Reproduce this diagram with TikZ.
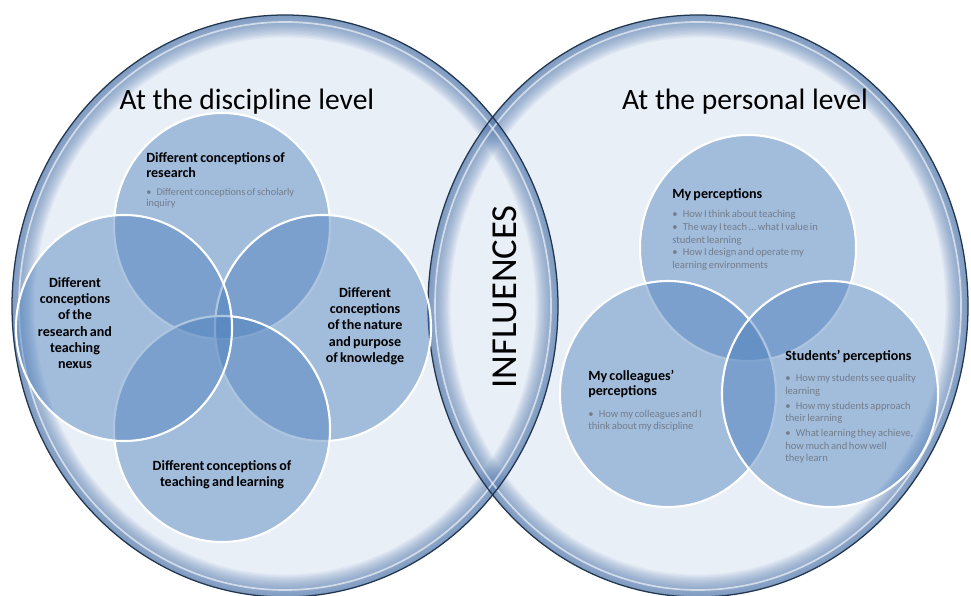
\documentclass[tikz,border=0pt]{standalone}
\usepackage{fontspec}
\setmainfont{Carlito}
\newfontfamily\petalfont{Carlito}[WordSpace=0.7]
\usepackage{tikz}
\usetikzlibrary{shapes.geometric}

\definecolor{lensfill}{HTML}{E9EFF7}
\definecolor{rimblue}{HTML}{5A7FB2}
\definecolor{rimline}{HTML}{22364F}
\definecolor{petalblue}{HTML}{4F81BD}
\definecolor{bultext}{HTML}{737D8A}

% bullet text inside the petal labels
\newcommand\bulsize{\fontsize{7.5}{9}\selectfont}
\newcommand\bul[1][0pt]{\par\vspace{#1}\bulsize\mdseries
  \hangindent=1em\hangafter=1\noindent\color{bultext}\makebox[1em][l]{\textbullet}}

\begin{document}
\begin{tikzpicture}[x=0.025cm, y=-0.025cm,
  petal/.style={ellipse, draw=white, line width=1.5pt, fill=petalblue, fill opacity=0.46,
    minimum width=5.4cm, minimum height=5.65cm, inner sep=0pt},
  head/.style={font=\fontsize{21}{25}\selectfont, inner sep=0pt},
  lbl/.style={font=\petalfont\fontsize{10}{11.6}\selectfont\bfseries, inner sep=0pt, align=center},
  lblbox/.style={font=\petalfont\fontsize{10}{11}\selectfont\bfseries, inner sep=0pt, text width=#1, align=flush left}
]
  \useasboundingbox (0,0) rectangle (971,596);
  \fill[white] (0,0) rectangle (971,596);

  % two big ellipses
  \fill[lensfill] (285,306) ellipse [x radius=273, y radius=291];
  \fill[lensfill] (698,306) ellipse [x radius=270, y radius=291];
  \begin{scope}
    \clip (285,306) ellipse [x radius=273, y radius=291];
    \foreach \w in {32,30,...,2}
      \draw[rimblue, line width=\w pt, opacity=0.075] (285,306) ellipse [x radius=273, y radius=291];
  \end{scope}
  \begin{scope}
    \clip (698,306) ellipse [x radius=270, y radius=291];
    \foreach \w in {32,30,...,2}
      \draw[rimblue, line width=\w pt, opacity=0.075] (698,306) ellipse [x radius=270, y radius=291];
  \end{scope}
  \draw[white, line width=1.2pt, opacity=0.6] (285,306) ellipse [x radius=266, y radius=284];
  \draw[white, line width=1.2pt, opacity=0.6] (698,306) ellipse [x radius=263, y radius=284];
  \draw[rimline, line width=0.9pt] (285,306) ellipse [x radius=273, y radius=291];
  \draw[rimline, line width=0.9pt] (698,306) ellipse [x radius=270, y radius=291];

  \node[head, anchor=base] (discipline) at (247,110) {At the discipline level};
  \node[head, anchor=base] (personal) at (745,110) {At the personal level};
  \node[font=\fontsize{26}{30}\selectfont, rotate=90, inner sep=0pt] (influences) at (505,297) {INFLUENCES};

  % discipline petals
  \node[petal] (research) at (222,226) {};
  \node[petal] (nature) at (323,328) {};
  \node[petal] (teaching) at (222,429) {};
  \node[petal] (nexus) at (124,328) {};

  % personal petals
  \node[petal] (mine) at (748,248) {};
  \node[petal] (colleagues) at (668,394) {};
  \node[petal] (students) at (830,394) {};

  % discipline labels
  \node[lblbox=4.6cm, anchor=north west] (researchtxt) at (146,152)
    {\renewcommand\bulsize{\fontsize{7.3}{7.9}\selectfont}%
     Different conceptions of\\research\bul[4.5pt]Different conceptions of scholarly\\inquiry\par};
  \node[lbl, anchor=north] (nexustxt) at (75,277)
    {Different\\conceptions\\of the\\research and\\teaching\\nexus};
  \node[lbl, anchor=north] (naturetxt) at (365,287)
    {Different\\conceptions\\of the nature\\and purpose\\of knowledge};
  \node[lbl, anchor=north] (teachingtxt) at (222,460)
    {Different conceptions of\\teaching and learning};

  % personal labels
  \node[lblbox=4.8cm, anchor=north west] (minetxt) at (672,188)
    {My perceptions\bul[5pt]How I think about teaching\bul The way I teach … what I value in\\student learning\bul How I design and operate my\\learning environments\par};
  \node[lblbox=3.6cm, anchor=north west] (colleaguestxt) at (588,370)
    {My colleagues’\\perceptions\bul[6pt]How my colleagues and I\\think about my discipline\par};
  \node[lblbox=4.2cm, anchor=north west] (studentstxt) at (785,350)
    {Students’ perceptions\bul[6pt]How my students see quality\\learning\bul[1.5pt]How my students approach\\their learning\bul[1.5pt]What learning they achieve,\\how much and how well\\they learn\par};
\end{tikzpicture}
\end{document}
